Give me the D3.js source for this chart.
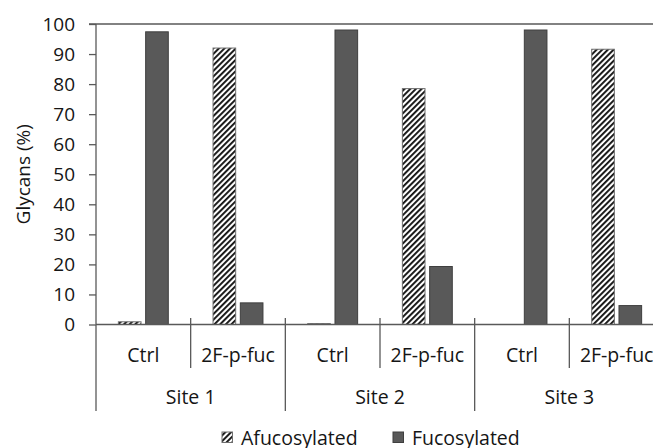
<!DOCTYPE html>
<html>
<head>
<meta charset="utf-8">
<script src="https://cdn.jsdelivr.net/npm/d3@7"></script>
<style>
  body { margin: 0; background: #fff; }
  svg { display: block; font-family: "Open Sans", "Noto Sans", sans-serif; }
</style>
</head>
<body>
<svg id="chart" width="653" height="448"></svg>
<script>
// Glycan composition per site and treatment
const sites = ["Site 1", "Site 2", "Site 3"];
const treatments = ["Ctrl", "2F-p-fuc"];
const seriesNames = ["Afucosylated", "Fucosylated"];
const afucosylated = [0.9, 92.0, 0.3, 78.5, 0, 91.6];
const fucosylated = [97.4, 7.2, 98.0, 19.3, 98.0, 6.3];
const yTicks = [0, 10, 20, 30, 40, 50, 60, 70, 80, 90, 100];

const categories = [];
sites.forEach(s => treatments.forEach(t => categories.push({ site: s, treatment: t, key: s + "|" + t })));
const rows = categories.map((c, i) => ({ ...c, values: [afucosylated[i], fucosylated[i]] }));

const svg = d3.select("#chart");
const lineColor = "#595959";
const fucoFill = "#595959";
const textColor = "#151515";
const fontSize = 19.5;

const plotLeft = 96, plotRight = 664, plotTop = 24, plotBottom = 324.5;

const x = d3.scaleBand().domain(categories.map(c => c.key)).range([plotLeft, plotRight]);
const xInner = d3.scaleBand().domain(seriesNames).range([0, x.bandwidth()]).paddingInner(0.17).paddingOuter(0.82);
const y = d3.scaleLinear().domain([0, 100]).range([plotBottom, plotTop]);

// hatch pattern for the afucosylated series
const defs = svg.append("defs");
const pat = defs.append("pattern")
  .attr("id", "hatch")
  .attr("patternUnits", "userSpaceOnUse")
  .attr("width", 4).attr("height", 4)
  .attr("patternTransform", "rotate(45)");
pat.append("rect").attr("width", 4).attr("height", 4).attr("fill", "#fff");
pat.append("rect").attr("width", 1.9).attr("height", 4).attr("fill", "#111");

// top frame line at 100
svg.append("line")
  .attr("x1", plotLeft - 7).attr("x2", 653)
  .attr("y1", y(100)).attr("y2", y(100))
  .attr("stroke", lineColor).attr("stroke-width", 1.3);

// bars
const fills = { "Afucosylated": "url(#hatch)", "Fucosylated": fucoFill };
const strokes = { "Afucosylated": "#6e6e6e", "Fucosylated": "#3f3f3f" };
const g = svg.append("g");
rows.forEach(r => {
  r.values.forEach((v, j) => {
    if (v <= 0) return;
    const name = seriesNames[j];
    g.append("rect")
      .attr("x", x(r.key) + xInner(name))
      .attr("y", y(v))
      .attr("width", xInner.bandwidth())
      .attr("height", y(0) - y(v))
      .attr("fill", fills[name])
      .attr("stroke", strokes[name])
      .attr("stroke-width", 1);
  });
});

// y axis
const yAxis = d3.axisLeft(y).tickValues(yTicks).tickSize(7).tickPadding(14);
const ya = svg.append("g").attr("transform", `translate(${plotLeft},0)`).call(yAxis);
ya.select(".domain").attr("stroke", lineColor).attr("stroke-width", 1.3).attr("d", `M0,${y(100)}V${y(0)}`);
ya.selectAll(".tick line").attr("stroke", lineColor).attr("stroke-width", 1.3);
ya.selectAll(".tick text").attr("font-size", 19).attr("fill", textColor).attr("font-family", "Open Sans");

// baseline
svg.append("line")
  .attr("x1", plotLeft).attr("x2", 653)
  .attr("y1", y(0)).attr("y2", y(0))
  .attr("stroke", lineColor).attr("stroke-width", 1.3);

// treatment labels
const xa = svg.append("g");
categories.forEach(c => {
  xa.append("text")
    .attr("x", x(c.key) + x.bandwidth() / 2)
    .attr("y", 362)
    .attr("text-anchor", "middle")
    .attr("font-size", fontSize).attr("fill", textColor)
    .text(c.treatment);
});
// inner separators between treatments
sites.forEach(s => {
  const xs = x(s + "|" + treatments[1]);
  xa.append("line").attr("x1", xs).attr("x2", xs).attr("y1", y(0) - 6.5).attr("y2", 368)
    .attr("stroke", lineColor).attr("stroke-width", 1.3);
});
// site separators and site labels
sites.forEach((s, i) => {
  const xs = x(s + "|" + treatments[0]);
  xa.append("line").attr("x1", xs).attr("x2", xs)
    .attr("y1", i === 0 ? y(0) : y(0) - 6.5).attr("y2", 411)
    .attr("stroke", lineColor).attr("stroke-width", 1.3);
  xa.append("text")
    .attr("x", xs + x.bandwidth())
    .attr("y", 404)
    .attr("text-anchor", "middle")
    .attr("font-size", fontSize).attr("fill", textColor)
    .text(s);
});

// y axis title
svg.append("text")
  .attr("transform", `translate(30,${(plotTop + plotBottom) / 2}) rotate(-90)`)
  .attr("text-anchor", "middle")
  .attr("font-size", 19).attr("fill", textColor)
  .text("Glycans (%)");

// legend
const legend = svg.append("g");
const legendItems = [
  { name: seriesNames[0], x: 222 },
  { name: seriesNames[1], x: 393 }
];
legendItems.forEach(it => {
  legend.append("rect")
    .attr("x", it.x).attr("y", 432).attr("width", 10.5).attr("height", 10.5)
    .attr("fill", fills[it.name]).attr("stroke", strokes[it.name]).attr("stroke-width", 1);
  legend.append("text")
    .attr("x", it.x + 19).attr("y", 445)
    .attr("font-size", fontSize).attr("fill", textColor)
    .text(it.name);
});
</script>
</body>
</html>
